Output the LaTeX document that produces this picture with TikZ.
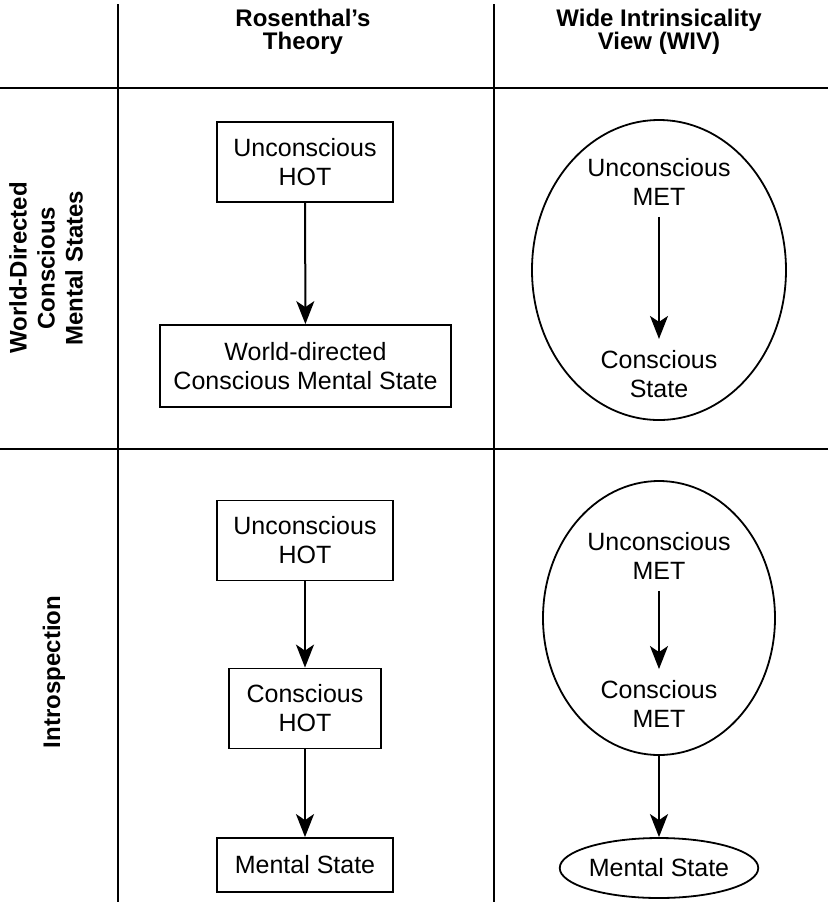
\documentclass[tikz,border=0pt]{standalone}
\usepackage{fontspec}
\setmainfont{Liberation Sans}
\usetikzlibrary{shapes.geometric, arrows.meta}
\tikzset{
    box/.style={draw, line width=0.9pt, align=center, minimum height=40pt,
    	font=\fontsize{12.5}{14.5}\selectfont},
    oval/.style={draw, ellipse, line width=0.9pt, inner sep=0pt,
    	font=\fontsize{12.5}{14.5}\selectfont},
    txt/.style={align=center, inner sep=5.5pt, font=\fontsize{12.5}{14.5}\selectfont},
    head/.style={align=center, font=\fontsize{12}{11.5}\selectfont\bfseries},
    side/.style={align=center, rotate=90, font=\fontsize{12}{14}\selectfont\bfseries},
    rule/.style={line width=1.1pt},
    arr/.style={line width=1pt, -{Stealth[length=11.5pt, width=9pt, inset=3pt]}}
}

\begin{document}
\begin{tikzpicture}[x=0.5pt, y=-0.5pt]
	\useasboundingbox (0, 0) rectangle (828, 902);
	\draw[rule] (118, 4) -- (118, 902); \draw[rule] (494, 4) -- (494, 902);
	\draw[rule] (0, 88) -- (828, 88); \draw[rule] (0, 449) -- (828, 449);

	\node (rt) [head] at (303, 32) {Rosenthal’s\\Theory};
	\node (wiv) [head] at (659, 32) {Wide Intrinsicality\\View (WIV)};
	\node (wd) [side] at (46, 268) {World-Directed\\Conscious\\Mental States};
	\node (intro) [side] at (54, 672) {Introspection};

	\node (hot1) [box, minimum width=88pt] at (305, 162) {Unconscious\\HOT};
	\node (wdcms) [box, minimum width=145.5pt, minimum height=41pt] at (305.5, 366) {World-directed\\Conscious Mental State};
	\node (hot2) [box, minimum width=88pt] at (305, 540.5) {Unconscious\\HOT};
	\node (hot3) [box, minimum width=76pt] at (305, 708.5) {Conscious\\HOT};
	\node (ms1) [box, minimum width=88pt, minimum height=27pt] at (305, 865) {Mental State};

	\node (oval1) [oval, minimum width=127pt, minimum height=150pt] at (659, 270) {};
	\node (met1) [txt] at (659, 182) {Unconscious\\MET};
	\node (cs1) [txt] at (659, 374) {Conscious\\State};
	\node (oval2) [oval, minimum width=116pt, minimum height=137pt] at (659, 618) {};
	\node (met2) [txt] at (659, 556) {Unconscious\\MET};
	\node (met3) [txt] at (659, 704) {Conscious\\MET};
	\node (ms2) [oval, minimum width=91pt, minimum height=30pt] at (659, 868) {Mental State};

	\draw[arr] (hot1) edge (wdcms); \draw[arr] (hot2) edge (hot3);
	\draw[arr] (hot3) edge (ms1);
	\draw[arr] (met1) edge (cs1); \draw[arr] (met2) edge (met3);
	\draw[arr] (oval2) edge (ms2);
\end{tikzpicture}
\end{document}
